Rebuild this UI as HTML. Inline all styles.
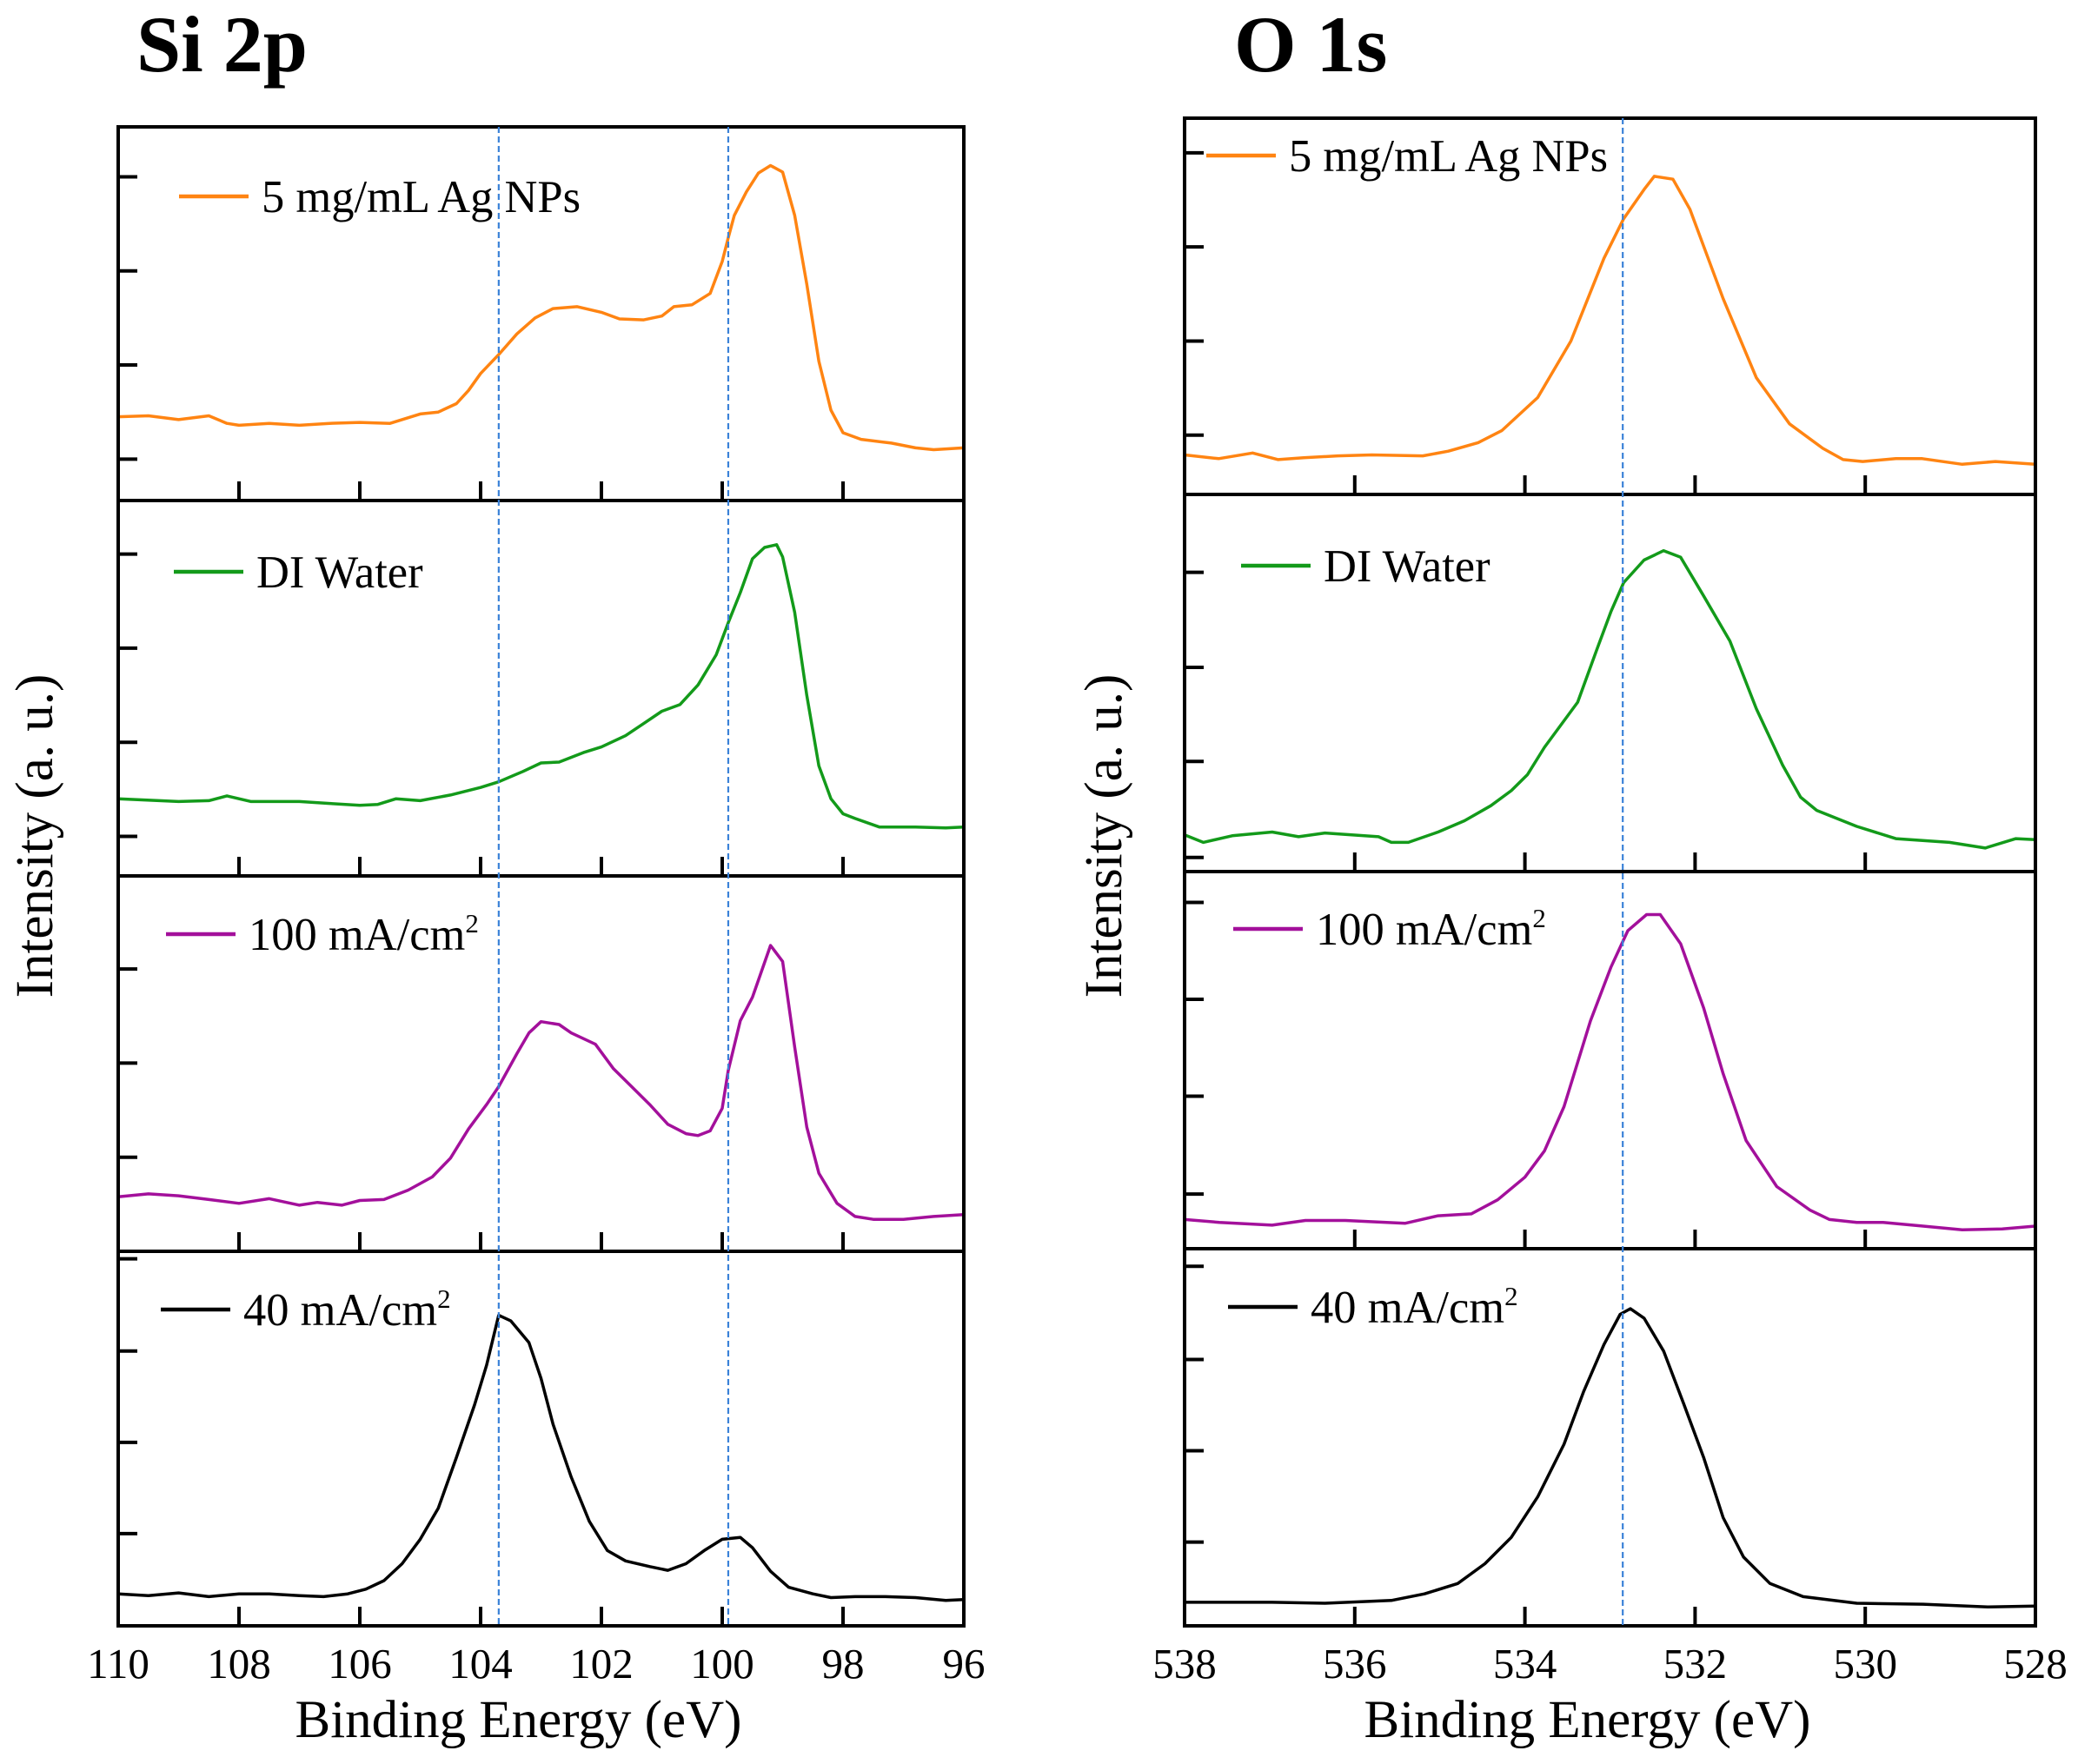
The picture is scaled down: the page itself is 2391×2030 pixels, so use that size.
<!DOCTYPE html>
<html><head><meta charset="utf-8"><style>
html,body{margin:0;padding:0;background:#fff}
svg{display:block}
text{font-family:"Liberation Serif",serif;fill:#000}
</style></head><body>
<svg id="chart" width="2391" height="2030" viewBox="0 0 2391 2030" xmlns="http://www.w3.org/2000/svg">
<text x="157" y="82" font-size="92" font-weight="bold">Si 2p</text>
<text x="1420" y="82" font-size="92" font-weight="bold">O 1s</text>
<g id="plots"></g>
</svg>
<script>
// ---- Data (intensity in arbitrary units, energy in eV) ----
const siLabels = ["5 mg/mL Ag NPs","DI Water","100 mA/cm","40 mA/cm"];
const oLabels = ["5 mg/mL Ag NPs","DI Water","100 mA/cm","40 mA/cm"];
const seriesColors = ["#ff8412","#139a1a","#a3109b","#000000"];
const siXTicks = [110,108,106,104,102,100,98,96];
const oXTicks = [538,536,534,532,530,528];
const siDashed = [103.7,99.9];
const oDashed = [532.85];

const siE1 = [110,109.5,109,108.5,108.2,108,107.5,107,106.5,106,105.5,105,104.7,104.4,104.2,104,103.7,103.4,103.1,102.8,102.4,102,101.7,101.3,101,100.8,100.5,100.2,100,99.9,99.8,99.6,99.4,99.2,99,98.8,98.6,98.4,98.2,98,97.7,97.2,96.8,96.5,96];
const siI1 = [0.89,0.90,0.86,0.90,0.82,0.80,0.82,0.80,0.82,0.83,0.82,0.92,0.94,1.03,1.17,1.35,1.55,1.77,1.94,2.04,2.06,2.00,1.93,1.92,1.96,2.06,2.08,2.20,2.54,2.79,3.03,3.28,3.48,3.56,3.49,3.03,2.30,1.48,0.96,0.72,0.65,0.61,0.56,0.54,0.56];
const siE2 = [110,109,108.5,108.2,107.8,107,106.5,106,105.7,105.4,105,104.5,104,103.7,103.3,103,102.7,102.3,102,101.6,101.3,101,100.7,100.4,100.1,99.9,99.7,99.5,99.3,99.1,99,98.8,98.6,98.4,98.2,98,97.8,97.4,96.8,96.3,96];
const siI2 = [0.82,0.79,0.80,0.85,0.79,0.79,0.77,0.75,0.76,0.82,0.80,0.86,0.94,1.00,1.11,1.20,1.21,1.31,1.37,1.49,1.62,1.75,1.82,2.03,2.35,2.69,3.01,3.37,3.49,3.52,3.39,2.80,1.92,1.17,0.82,0.66,0.61,0.52,0.52,0.51,0.52];
const siE3 = [110,109.5,109,108.5,108,107.5,107,106.7,106.3,106,105.6,105.2,104.8,104.5,104.2,103.9,103.7,103.4,103.2,103,102.7,102.5,102.1,101.8,101.5,101.2,100.9,100.6,100.4,100.2,100,99.9,99.7,99.5,99.2,99,98.8,98.6,98.4,98.1,97.8,97.5,97,96.5,96];
const siI3 = [0.58,0.61,0.59,0.55,0.51,0.56,0.49,0.52,0.49,0.54,0.55,0.65,0.79,0.99,1.30,1.56,1.75,2.10,2.32,2.44,2.41,2.32,2.20,1.94,1.75,1.56,1.35,1.25,1.23,1.28,1.52,1.92,2.45,2.70,3.25,3.08,2.17,1.32,0.83,0.51,0.37,0.34,0.34,0.37,0.39];
const siE4 = [110,109.5,109,108.5,108,107.5,107,106.6,106.2,105.9,105.6,105.3,105,104.7,104.4,104.1,103.9,103.7,103.5,103.2,103,102.8,102.5,102.2,101.9,101.6,101.2,100.9,100.6,100.3,100,99.7,99.5,99.2,98.9,98.5,98.2,97.8,97.3,96.8,96.3,96];
const siI4 = [0.34,0.32,0.35,0.31,0.34,0.34,0.32,0.31,0.34,0.39,0.48,0.66,0.92,1.25,1.79,2.35,2.77,3.30,3.24,3.01,2.63,2.14,1.58,1.11,0.80,0.69,0.63,0.59,0.66,0.80,0.92,0.94,0.83,0.58,0.41,0.34,0.30,0.31,0.31,0.30,0.27,0.28];

const oE1 = [538,537.6,537.2,536.9,536.6,536.2,535.8,535.2,534.9,534.55,534.27,533.85,533.46,533.07,532.84,532.6,532.48,532.26,532.06,531.67,531.28,530.89,530.5,530.26,530.03,529.64,529.33,528.86,528.47,528];
const oI1 = [0.42,0.38,0.44,0.37,0.39,0.41,0.42,0.41,0.46,0.55,0.68,1.03,1.63,2.51,2.93,3.24,3.38,3.35,3.03,2.08,1.24,0.75,0.49,0.37,0.35,0.38,0.38,0.32,0.35,0.32];
const oE2 = [538,537.78,537.44,536.97,536.66,536.35,535.72,535.57,535.37,535.02,534.71,534.4,534.16,533.97,533.77,533.38,533.15,532.99,532.84,532.6,532.37,532.17,531.9,531.59,531.28,530.97,530.76,530.57,530.1,529.64,529.01,528.59,528.23,528];
const oI2 = [0.39,0.31,0.38,0.42,0.37,0.41,0.37,0.31,0.31,0.42,0.54,0.70,0.86,1.03,1.32,1.80,2.37,2.76,3.07,3.31,3.41,3.34,2.93,2.45,1.73,1.13,0.79,0.65,0.48,0.35,0.31,0.25,0.35,0.34];
const oE3 = [538,537.59,536.97,536.58,536.11,535.41,535.02,534.63,534.32,534,533.77,533.54,533.23,532.99,532.79,532.57,532.41,532.17,531.9,531.67,531.4,531.04,530.65,530.42,530.1,529.79,529.32,528.86,528.39,528];
const oI3 = [0.31,0.28,0.25,0.30,0.30,0.27,0.35,0.37,0.52,0.76,1.04,1.51,2.42,2.99,3.38,3.55,3.55,3.24,2.56,1.86,1.15,0.66,0.41,0.31,0.28,0.28,0.24,0.20,0.21,0.24];
const oE4 = [538,536.97,536.35,535.57,535.18,534.79,534.47,534.16,533.85,533.54,533.31,533.07,532.88,532.76,532.6,532.37,532.13,531.9,531.67,531.43,531.12,530.73,530.1,529.32,528.55,528];
const oI4 = [0.25,0.25,0.24,0.27,0.34,0.45,0.66,0.94,1.37,1.93,2.49,2.99,3.31,3.37,3.27,2.92,2.35,1.79,1.15,0.73,0.45,0.31,0.24,0.23,0.20,0.21];

const siYTicks = [[0.44,1.44,2.44,3.44],[0.42,1.42,2.42,3.42],[1,2,3],[0.98,1.95,2.92,3.9]];
const oYTicks = [[0.63,1.63,2.63,3.63],[0.15,1.17,2.17,3.18],[0.58,1.62,2.65,3.68],[0.89,1.86,2.83,3.82]];

// ---- Layout ----
const NS = "http://www.w3.org/2000/svg";
const root = document.getElementById("plots");
function mk(tag, attrs, parent){ const e=document.createElementNS(NS,tag); for(const k in attrs) e.setAttribute(k,attrs[k]); (parent||root).appendChild(e); return e; }

function drawColumn(cfg){
  const {x0,x1,eMax,eMin,tops,bottom,E,I,yTicks,xTicks,dashed,labels,legend,key,titleX} = cfg;
  const unit = 108.3;
  const xs = e => x0 + (eMax - e) / (eMax - eMin) * (x1 - x0);
  const panelsTop = tops.concat([bottom]);
  for(let p=0;p<4;p++){
    const pt = panelsTop[p], pb = panelsTop[p+1];
    const ys = v => pb - v*unit;
    const g = mk("g",{});
    
    
    yTicks[p].forEach(t=>{
      const tk = mk("line",{x1:x0,x2:x0+22,y1:ys(t),y2:ys(t),stroke:"#000","stroke-width":4},g);
      
      
    });
    xTicks.slice(1,-1).forEach(t=>{
      const tk = mk("line",{x1:xs(t),x2:xs(t),y1:pb,y2:pb-22,stroke:"#000","stroke-width":4},g);
      
      
    });
    const d = E[p].map((e,i)=>(i?"L":"M")+xs(e).toFixed(1)+","+ys(I[p][i]).toFixed(1)).join("");
    const path = mk("path",{d:d,fill:"none",stroke:seriesColors[p],"stroke-width":3.5,"stroke-linejoin":"round"},g);
    
    
    const lg = legend[p];
    const ll = mk("line",{x1:lg[0],x2:lg[0]+80,y1:lg[1],y2:lg[1],stroke:seriesColors[p],"stroke-width":4.5},g);
    
    
    const tx = mk("text",{x:lg[0]+95,y:lg[1]+18,"font-size":52.5},g);
    tx.textContent = labels[p];
    
    
    if(p>=2){ const sup = mk("tspan",{"font-size":31,dy:-20},tx); sup.textContent="2"; }
    const fr = mk("rect",{x:x0,y:pt,width:x1-x0,height:pb-pt,fill:"none",stroke:"#000","stroke-width":4},g);
    
    
  }
  dashed.forEach(e=>{
    const dl = mk("line",{x1:xs(e),x2:xs(e),y1:tops[0],y2:bottom,stroke:"#3b82d8","stroke-width":2.2,"stroke-dasharray":"7,4"});
    
    
  });
  xTicks.forEach(t=>{
    const tl = mk("text",{x:xs(t),y:bottom+60,"font-size":49,"text-anchor":"middle"});
    tl.textContent = t;
    
    
  });
  const xt = mk("text",{x:(x0+x1)/2-26,y:bottom+128,"font-size":61,"text-anchor":"middle"});
  xt.textContent = "Binding Energy (eV)";
  
  
  const yt = mk("text",{x:0,y:0,"font-size":61,"text-anchor":"middle",transform:"translate("+titleX+",962) rotate(-90)"});
  yt.textContent = "Intensity (a. u.)";
  
  
}

drawColumn({x0:136,x1:1109,eMax:110,eMin:96,tops:[146,576,1008,1440],bottom:1871,
  E:[siE1,siE2,siE3,siE4],I:[siI1,siI2,siI3,siI4],yTicks:siYTicks,xTicks:siXTicks,dashed:siDashed,
  labels:siLabels,legend:[[206,226],[200,658],[191,1075],[185,1507]],key:"si2p",titleX:60});
drawColumn({x0:1363,x1:2342,eMax:538,eMin:528,tops:[136,569,1003,1437],bottom:1871,
  E:[oE1,oE2,oE3,oE4],I:[oI1,oI2,oI3,oI4],yTicks:oYTicks,xTicks:oXTicks,dashed:oDashed,
  labels:oLabels,legend:[[1388,179],[1428,651],[1419,1069],[1413,1504]],key:"o1s",titleX:1290});
</script>
</body></html>
